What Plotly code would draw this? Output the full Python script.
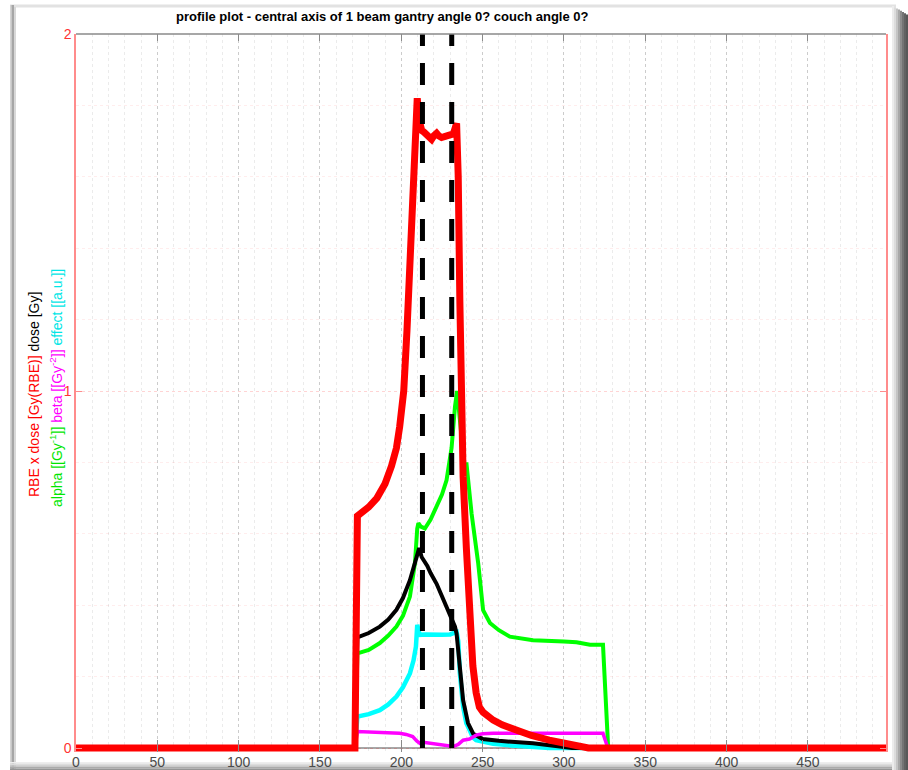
import plotly.graph_objects as go

# depth positions (voxels along the central axis) and profile values
rbe_dose_x = [0, 171.5, 173, 176, 180, 185, 190, 194, 197, 199, 201.5, 203.5, 206, 208,
              209.8, 211, 212.5, 214, 215.5, 217, 218.6, 220, 221.7, 223, 224.8, 227,
              229.9, 232, 234, 235, 236, 236.8, 238, 240, 242, 244, 246, 248, 250.3,
              256.5, 262, 270, 280, 291, 300, 310, 315, 498]
rbe_dose_y = [0, 0, 0.65, 0.66, 0.675, 0.70, 0.74, 0.79, 0.84, 0.90, 1.0, 1.17, 1.40, 1.60,
              1.82, 1.76, 1.73, 1.725, 1.72, 1.71, 1.705, 1.715, 1.722, 1.715, 1.71, 1.713,
              1.715, 1.72, 1.75, 1.60, 1.25, 0.98, 0.76, 0.56, 0.39, 0.23, 0.155, 0.115, 0.10,
              0.078, 0.065, 0.05, 0.035, 0.022, 0.012, 0.003, 0, 0]

alpha_x = [0, 171.5, 173, 180, 186.8, 192, 197, 201, 205.3, 207.5, 208.4, 209.8, 210.5,
           212, 214.5, 218, 221.7, 225, 227.8, 230.9, 233, 234.3, 236, 239, 240, 243.2,
           247.3, 250.3, 254.5, 260, 266.7, 281, 300, 307.7, 316, 324, 327.2, 498]
alpha_y = [0, 0, 0.265, 0.275, 0.294, 0.315, 0.34, 0.37, 0.424, 0.48, 0.518, 0.615, 0.63,
           0.62, 0.615, 0.64, 0.676, 0.71, 0.75, 0.84, 0.956, 1.0, 0.92, 0.78, 0.80, 0.657,
           0.517, 0.386, 0.35, 0.33, 0.312, 0.302, 0.298, 0.296, 0.289, 0.289, 0, 0]

dose_x = [0, 171.5, 173, 180, 186.8, 192, 197, 201, 205.3, 208, 209.8, 211, 212.5, 214,
          216, 218, 221.7, 225, 227.8, 231, 233, 234, 236, 238, 241, 244.2, 250, 260, 281,
          297.5, 305, 498]
dose_y = [0, 0, 0.31, 0.322, 0.34, 0.36, 0.387, 0.42, 0.47, 0.51, 0.545, 0.56, 0.535, 0.525,
          0.51, 0.49, 0.46, 0.425, 0.396, 0.36, 0.34, 0.32, 0.22, 0.134, 0.07, 0.04, 0.025,
          0.02, 0.013, 0.004, 0, 0]

effect_x = [0, 171.5, 173, 180, 186.8, 192, 197, 201, 205.3, 207.5, 209, 209.8, 210.5,
            211.4, 215, 220, 225, 230, 234, 235, 236, 238, 240, 242, 244, 246, 250, 256.5,
            270, 291, 498]
effect_y = [0, 0, 0.088, 0.095, 0.106, 0.122, 0.144, 0.17, 0.209, 0.245, 0.284, 0.345, 0.33,
            0.317, 0.318, 0.316, 0.317, 0.318, 0.325, 0.30, 0.21, 0.116, 0.069, 0.05, 0.03,
            0.022, 0.017, 0.012, 0.006, 0, 0]

beta_x = [0, 171.5, 173, 185, 199, 203, 207, 209.5, 211.4, 213.5, 220, 228, 232, 235, 238,
          242, 246, 250, 256.5, 324, 327, 498]
beta_y = [0, 0, 0.046, 0.044, 0.041, 0.038, 0.032, 0.02, 0.013, 0.016, 0.012, 0.007, 0.004,
          0.01, 0.022, 0.025, 0.036, 0.040, 0.041, 0.041, 0, 0]

# target boundaries
boundary_x = [213, 231]

x_ticks = [0, 50, 100, 150, 200, 250, 300, 350, 400, 450]
y_ticks = [0, 1, 2]

W, H = 908, 770
L, R, T, B = 76, 22, 34, 18
PW, PH = W - L - R, H - T - B


def px(xp):
    return (xp - L) / PW


def py(yp):
    return (H - B - yp) / PH


fig = go.Figure()

series = [
    (alpha_x, alpha_y, "#00ff00", 4),
    (effect_x, effect_y, "#00ffff", 4.5),
    (dose_x, dose_y, "#000000", 4),
    (beta_x, beta_y, "#ff00ff", 3.5),
    (rbe_dose_x, rbe_dose_y, "#ff0000", 7),
]
for xs, ys, col, w in series:
    fig.add_trace(go.Scatter(x=xs, y=ys, mode="lines",
                             line=dict(color=col, width=w), hoverinfo="skip",
                             showlegend=False))

for bx in boundary_x:
    fig.add_trace(go.Scatter(x=[bx, bx], y=[y_ticks[0], y_ticks[-1]], mode="lines",
                             line=dict(color="#000000", width=5, dash="22px,17px"),
                             hoverinfo="skip", showlegend=False))

# top axis carrying the mirrored tick marks
fig.add_trace(go.Scatter(x=[None], y=[None], xaxis="x2", showlegend=False,
                         hoverinfo="skip"))

grey = "#8a8a8a"
red_axis = "#ff8c8c"
font = "Liberation Sans, Arial, sans-serif"

fig.update_layout(
    width=W, height=H,
    margin=dict(l=L, r=R, t=T, b=B, autoexpand=False),
    paper_bgcolor="white", plot_bgcolor="white",
    font=dict(family=font),
    xaxis=dict(
        range=[0, 498], tickvals=x_ticks, ticks="inside", ticklen=12,
        tickcolor=grey, tickwidth=1, showline=False, zeroline=False, automargin=False,
        tickfont=dict(size=14, color="#4a4a4a"),
        showgrid=True, gridcolor="rgba(0,0,0,0.13)", griddash="dot", gridwidth=1,
        minor=dict(dtick=10, tick0=0, showgrid=True, gridcolor="rgba(0,0,0,0.08)",
                   griddash="dot", ticks=""),
    ),
    xaxis2=dict(
        range=[0, 498], overlaying="x", side="top", anchor="y", automargin=False,
        tickvals=x_ticks, ticks="inside", ticklen=7, tickcolor=grey,
        showticklabels=False, showgrid=False, zeroline=False, showline=False,
    ),
    yaxis=dict(
        range=[-4 / 357, 2], tickvals=y_ticks, ticks="inside", ticklen=6,
        tickcolor=red_axis, showline=True, linecolor=red_axis, linewidth=1.5,
        mirror="ticks", zeroline=False, automargin=False,
        tickfont=dict(size=14, color="#ff3333"),
        showgrid=True, gridcolor="rgba(255,0,0,0.10)", griddash="dot",
        minor=dict(dtick=0.2, tick0=0, showgrid=True,
                   gridcolor="rgba(255,0,0,0.07)", griddash="dot", ticks=""),
    ),
)

shapes = []
# top and bottom axis lines
shapes.append(dict(type="line", xref="paper", yref="paper", x0=0, x1=1, y0=1, y1=1,
                   line=dict(color=grey, width=1.5), layer="above"))
shapes.append(dict(type="line", xref="paper", yref="y", x0=0, x1=1, y0=0, y1=0,
                   line=dict(color=grey, width=1.5), layer="below"))


def band(x0, y0, x1, y1, color):
    shapes.append(dict(type="rect", xref="paper", yref="paper",
                       x0=px(x0), x1=px(x1), y0=py(y0), y1=py(y1),
                       line=dict(width=0), fillcolor=color, layer="below"))


# beveled window frame
band(10, 4.5, 896, 7.5, "#e2e2e2")
band(10, 5, 11.5, 770, "#d4d4d4")
band(11.5, 5, 14, 770, "#a6a6a6")
band(14, 7, 16, 770, "#d8d8d8")
right_cols = ["#ececec", "#dcdcdc", "#c4c4c4", "#a8a8a8", "#8c8c8c", "#747474",
              "#626262", "#585858"]
for i, c in enumerate(right_cols):
    band(892 + 2 * i, 6 + 1.2 * i, 894 + 2 * i, 770, c)
bottom_cols = ["#eeeeee", "#dddddd", "#c6c6c6", "#ababab", "#959595"]
for i, c in enumerate(bottom_cols):
    band(10, 762 + 1.6 * i, 892, 763.6 + 1.6 * i, c)

fig.update_layout(shapes=shapes)

fig.add_annotation(
    text="<b>profile plot - central axis of 1 beam gantry angle 0? couch angle 0?</b>",
    xref="paper", yref="paper", x=px(382), y=py(17), xanchor="center", yanchor="middle",
    showarrow=False, font=dict(size=13, color="#000000", family=font))

fig.add_annotation(
    text='<span style="color:#ff0000">RBE x dose [Gy(RBE)]</span> dose [Gy]',
    xref="paper", yref="paper", x=px(34), y=py(395), xanchor="center", yanchor="middle",
    textangle=-90, showarrow=False, font=dict(size=14, color="#000000", family=font))

fig.add_annotation(
    text='<span style="color:#00e600">alpha [[Gy<sup>-1</sup>]]</span> '
         '<span style="color:#ff00ff">beta [[Gy<sup>-2</sup>]]</span> '
         '<span style="color:#00e6e6">effect [[a.u.]]</span>',
    xref="paper", yref="paper", x=px(56), y=py(388), xanchor="center", yanchor="middle",
    textangle=-90, showarrow=False, font=dict(size=14, color="#000000", family=font))

fig.write_html("out.html")
